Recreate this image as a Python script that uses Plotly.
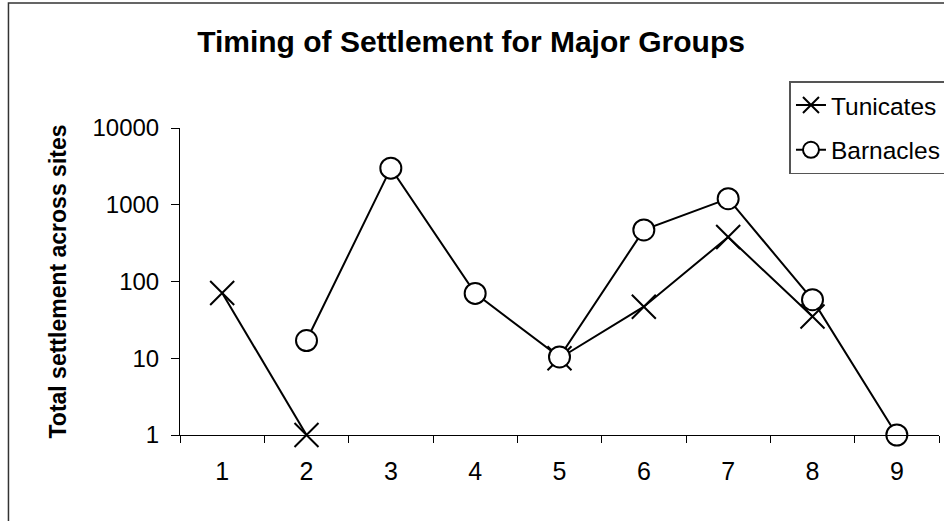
import plotly.graph_objects as go

# sampling periods and settlement totals (log axis, None = nothing recorded)
periods = [1, 2, 3, 4, 5, 6, 7, 8, 9]
tunicates = [71, 1, None, None, 10, 47, 380, 35, None]
barnacles = [None, 17, 3000, 70, 10.4, 470, 1200, 58, 1]
y_ticks = [1, 10, 100, 1000, 10000]

FONT = "Liberation Sans, Arial, sans-serif"

fig = go.Figure()
fig.add_trace(go.Scatter(
    x=periods, y=tunicates, name="Tunicates", mode="lines+markers",
    line=dict(color="black", width=2),
    marker=dict(symbol="x-thin", size=24, line=dict(color="black", width=2)),
    legendgroup="t", cliponaxis=False,
))
fig.add_trace(go.Scatter(
    x=periods, y=barnacles, name="Barnacles", mode="lines+markers",
    line=dict(color="black", width=2),
    marker=dict(symbol="circle", size=21, color="white", line=dict(color="black", width=2)),
    legendgroup="b", cliponaxis=False,
))

fig.update_layout(
    width=944, height=521,
    margin=dict(l=180, r=5, t=128, b=86, autoexpand=False),
    paper_bgcolor="white", plot_bgcolor="white",
    font=dict(family=FONT, size=24, color="black"),
    title=dict(text="<b>Timing of Settlement for Major Groups</b>",
               x=0.499, xanchor="center", y=0.92, yanchor="middle",
               font=dict(size=30)),
    legend=dict(x=0.803, y=1.153, xanchor="left", yanchor="top",
                bordercolor="#555", borderwidth=1.5, bgcolor="white",
                tracegroupgap=10, entrywidth=140, font=dict(size=24.5)),
    shapes=[dict(type="rect", xref="paper", yref="paper",
                 x0=-0.226, x1=1.02, y0=-0.35, y1=1.407,
                 line=dict(color="#333", width=1.5))],
)

fig.update_xaxes(
    range=[0.5, 9.5], tickvals=periods, ticks="", ticklabelstandoff=14,
    tickfont=dict(size=25),
    showline=True, linecolor="black", linewidth=1, showgrid=False, zeroline=False,
    minor=dict(tickvals=[p - 0.5 for p in periods] + [9.5], ticks="outside",
               ticklen=7, tickcolor="black", showgrid=False),
)
fig.update_yaxes(
    type="log", range=[0, 4], tickvals=y_ticks, ticktext=[str(v) for v in y_ticks],
    ticks="outside", ticklen=8, tickcolor="black", ticklabelstandoff=7,
    showline=True, linecolor="black", linewidth=1, showgrid=False, zeroline=False,
    title=dict(text="<b>Total settlement across sites</b>", standoff=19,
               font=dict(size=23)),
)

fig.write_html("out.html", config={"displayModeBar": False},
               post_script="document.body.style.margin='0px';")
